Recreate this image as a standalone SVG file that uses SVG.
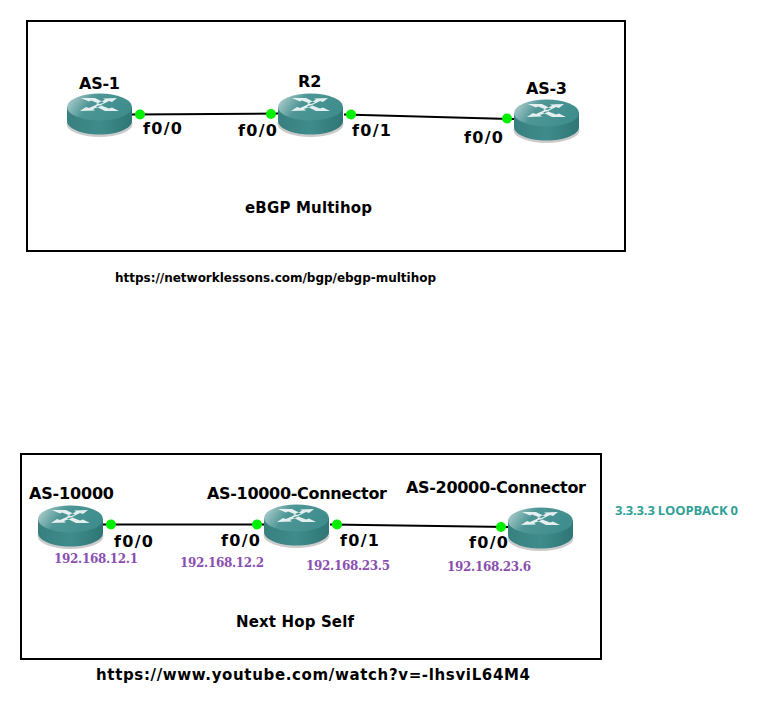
<svg xmlns="http://www.w3.org/2000/svg" width="762" height="708" viewBox="0 0 762 708">
<style>
text{font-family:"DejaVu Sans",Verdana,sans-serif;font-weight:bold;fill:#000}
.lab{font-size:16px}
.ip{font-size:12px;fill:#8a4fb0;font-family:"DejaVu Serif","Liberation Serif",serif}
.box{fill:#fff;stroke:#000;stroke-width:2}
.link{stroke:#000;stroke-width:2;fill:none}
.dot{fill:#00f000}
.arr{fill:#fff;opacity:.85}
</style>
<defs>
<linearGradient id="top" x1="0" y1="0" x2="1" y2="0.3"><stop offset="0" stop-color="#c0d8d8"/><stop offset=".42" stop-color="#4f9696"/><stop offset="1" stop-color="#3f8d8d"/></linearGradient>
<linearGradient id="side" x1="0" y1="0" x2="1" y2="0"><stop offset="0" stop-color="#38807f"/><stop offset=".5" stop-color="#3f8b8b"/><stop offset="1" stop-color="#2f7676"/></linearGradient>
<g id="router">
<ellipse cx="32.500" cy="31" rx="33" ry="13" fill="#a8a8a8" opacity=".6"/>
<path d="M0 14V28C0 35.500 14.500 41.500 32.500 41.500S65 35.500 65 28V14Z" fill="url(#side)"/>
<ellipse cx="32.500" cy="14" rx="32.500" ry="13.500" fill="url(#top)"/>
<path class="arr" d="M14 5L28 5L37 9.500L33 11L24 7.500L22 8.500ZM50 5L36 5.500L38 6.800L29 11L33 12.500L42 8L45 9ZM13 18L28 17.500L26 16L35 12.500L31 11L22 15L19 14ZM52 18L38 18L29 13.500L33 12L42 15.500L45 14.500Z"/>
</g>
</defs>
<rect class="box" x="27" y="21" width="598" height="230"/>
<rect class="box" x="21" y="454" width="580" height="205"/>
<g id="connectors">
<path class="link" d="M132 114.500L278 113.500"/>
<path class="link" d="M344 114.500L514 119"/>
<path class="link" d="M103 524.500L264 524.500"/>
<path class="link" d="M330 524.500L508 527"/>
</g>
<g id="as1"><use href="#router" x="67" y="93"/><text class="lab" x="79" y="89" textLength="41">AS-1</text><circle class="dot" cx="140" cy="114.500" r="5"/><text class="lab" x="143" y="134" textLength="39">f0/0</text></g>
<g id="r2"><use href="#router" x="278" y="93"/><text class="lab" x="298" y="87">R2</text><circle class="dot" cx="271" cy="114" r="5"/><circle class="dot" cx="351" cy="114.500" r="5"/><text class="lab" x="238" y="136" textLength="39">f0/0</text><text class="lab" x="352" y="136" textLength="39">f0/1</text></g>
<g id="as3"><use href="#router" x="514" y="99"/><text class="lab" x="526" y="94" textLength="41">AS-3</text><circle class="dot" cx="507" cy="118.500" r="5"/><text class="lab" x="464" y="143" textLength="39">f0/0</text></g>
<text x="245" y="213" font-size="15" textLength="127">eBGP Multihop</text>
<text x="115" y="282" font-size="12" textLength="321">https://networklessons.com/bgp/ebgp-multihop</text>
<g id="as10000"><use href="#router" x="38" y="505"/><text class="lab" x="29" y="499" textLength="85">AS-10000</text><circle class="dot" cx="111" cy="524.500" r="5"/><text class="lab" x="114" y="547" textLength="39">f0/0</text><text class="ip" x="54" y="563" textLength="84">192.168.12.1</text></g>
<g id="as10000c"><use href="#router" x="264" y="504"/><text class="lab" x="207" y="499" textLength="180">AS-10000-Connector</text><circle class="dot" cx="257" cy="524.500" r="5"/><circle class="dot" cx="337" cy="524.500" r="5"/><text class="lab" x="221" y="546" textLength="39">f0/0</text><text class="lab" x="340" y="546" textLength="39">f0/1</text><text class="ip" x="180" y="567" textLength="84">192.168.12.2</text><text class="ip" x="306" y="570" textLength="84">192.168.23.5</text></g>
<g id="as20000c"><use href="#router" x="508" y="507"/><text class="lab" x="406" y="493" textLength="180">AS-20000-Connector</text><circle class="dot" cx="501" cy="527" r="5"/><text class="lab" x="469" y="548" textLength="39">f0/0</text><text class="ip" x="447" y="571" textLength="84">192.168.23.6</text></g>
<text x="615" y="515" font-size="13" textLength="123" style="fill:#2fa096;font-family:'Open Sans','Noto Sans',sans-serif">3.3.3.3 LOOPBACK 0</text>
<text x="236" y="627" font-size="15" textLength="118">Next Hop Self</text>
<text x="96" y="680" font-size="15" textLength="434">https://www.youtube.com/watch?v=-lhsviL64M4</text>
</svg>
